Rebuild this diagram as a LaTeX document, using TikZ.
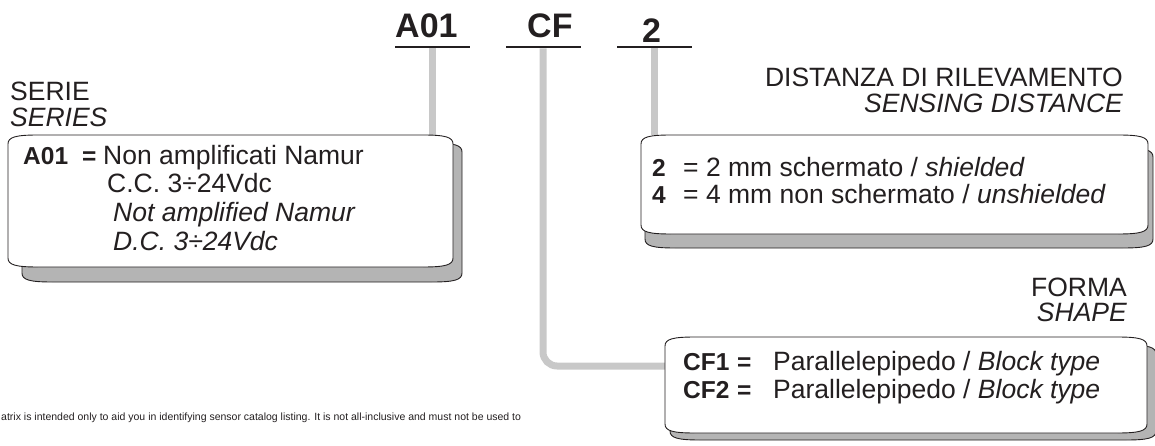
\documentclass[tikz,border=0pt]{standalone}
\usepackage{fontspec}
\setmainfont{Liberation Sans}
\usetikzlibrary{calc}
\definecolor{conngray}{RGB}{200,200,200}
\definecolor{shadowgray}{RGB}{180,180,180}
\definecolor{ink}{RGB}{35,31,32}
\newcommand\lbl[1]{{\fontsize{24.5}{28}\selectfont\bfseries #1}}
% card outline: x0, ytop, x1, ybottom (y grows downward)
\newcommand\cardpath[4]{(#1,#2+9) .. controls (#1,#2+2) and (#1+8,#2) .. (#1+30,#2) -- (#3-30,#2) .. controls (#3-8,#2) and (#3,#2+2) .. (#3,#2+9) -- (#3,#4-9) .. controls (#3,#4-2) and (#3-8,#4) .. (#3-30,#4) -- (#1+30,#4) .. controls (#1+8,#4) and (#1,#4-2) .. (#1,#4-9) -- cycle}
\begin{document}
\begin{tikzpicture}[x=1pt,y=-1pt,
  font=\fontsize{26.5}{28}\selectfont,
  conn/.style={draw=conngray, line width=7pt},
  cardstyle/.style={draw=ink, line width=0.9pt, fill=white},
  shadowstyle/.style={draw=ink, line width=0.9pt, fill=shadowgray},
  code/.style={font=\fontsize{34}{36}\selectfont\bfseries, text=ink, anchor=base west, inner sep=0pt},
  uline/.style={fill=ink, draw=none, minimum width=75pt, minimum height=2.5pt, inner sep=0pt},
  txt/.style={anchor=base west, inner sep=0pt, text=ink},
  head/.style={anchor=base east, inner sep=0pt, text=ink},
  area/.style={draw=none, inner sep=0pt}]
\useasboundingbox (0,0) rectangle (1155,446);

% invisible areas of the three cards
\node[area, minimum width=445pt, minimum height=132pt] (serbox) at (230.5,201) {};
\node[area, minimum width=507pt, minimum height=99pt] (distbox) at (894.5,184.5) {};
\node[area, minimum width=482pt, minimum height=96pt] (shapebox) at (906,385) {};

% code and underlines
\node[code] (a01) at (395,38) {A01};
\node[code] (cf) at (527,38) {CF};
\node[code] (two) at (642,43) {2};
\node[uline] (u1) at (432.5,47) {};
\node[uline] (u2) at (543,47) {};
\node[uline] (u3) at (654.5,47) {};

% connectors
\draw[conn] (u1.south) -- (u1.south |- serbox.north);
\draw[conn] (u3.south) -- (u3.south |- distbox.north);
\draw[conn, rounded corners=14pt] (u2.south) |- ([yshift=19pt]shapebox.west);

% cards with shadows
\path[shadowstyle] \cardpath{22}{143}{462}{282};
\path[cardstyle] \cardpath{8}{135}{453}{267};
\path[shadowstyle] \cardpath{645}{148}{1153}{248};
\path[cardstyle] \cardpath{641}{135}{1148}{234};
\path[shadowstyle] \cardpath{670}{345}{1156}{440};
\path[cardstyle] \cardpath{665}{337}{1147}{433};

% SERIES
\node[txt] (serie) at (10,101) {SERIE};
\node[txt] (series) at (10,127) {\itshape SERIES};
\node[txt] (s1) at (23,165) {\makebox[59pt][l]{\lbl{A01}}\makebox[21pt][l]{\lbl{=}}Non amplificati Namur};
\node[txt] (s2) at (107,193) {C.C. 3÷24Vdc};
\node[txt] (s3) at (113,222) {\itshape Not amplified Namur};
\node[txt] (s4) at (113,250) {\itshape D.C. 3÷24Vdc};

% SENSING DISTANCE
\node[head] (dist) at (1123,87) {DISTANZA DI RILEVAMENTO};
\node[head] (sens) at (1123,113) {\itshape SENSING DISTANCE};
\node[txt] (d1) at (652,177) {\makebox[31pt][l]{\lbl{2}}= 2 mm schermato / \textit{shielded}};
\node[txt] (d2) at (652,204) {\makebox[31pt][l]{\lbl{4}}= 4 mm non schermato / \textit{unshielded}};

% SHAPE
\node[head] (forma) at (1127,296) {FORMA};
\node[head] (shape) at (1127,321) {\itshape SHAPE};
\node[txt] (c1) at (683,370) {\makebox[54pt][l]{\lbl{CF1}}\makebox[36pt][l]{\lbl{=}}Parallelepipedo / \textit{Block type}};
\node[txt] (c2) at (683,398) {\makebox[54pt][l]{\lbl{CF2}}\makebox[36pt][l]{\lbl{=}}Parallelepipedo / \textit{Block type}};

% footnote
\node[txt, font=\fontsize{10.5}{11}\selectfont] (note) at (1,420) {atrix is intended only to aid you in identifying sensor catalog listing. It is not all-inclusive and must not be used to};
\end{tikzpicture}
\end{document}
